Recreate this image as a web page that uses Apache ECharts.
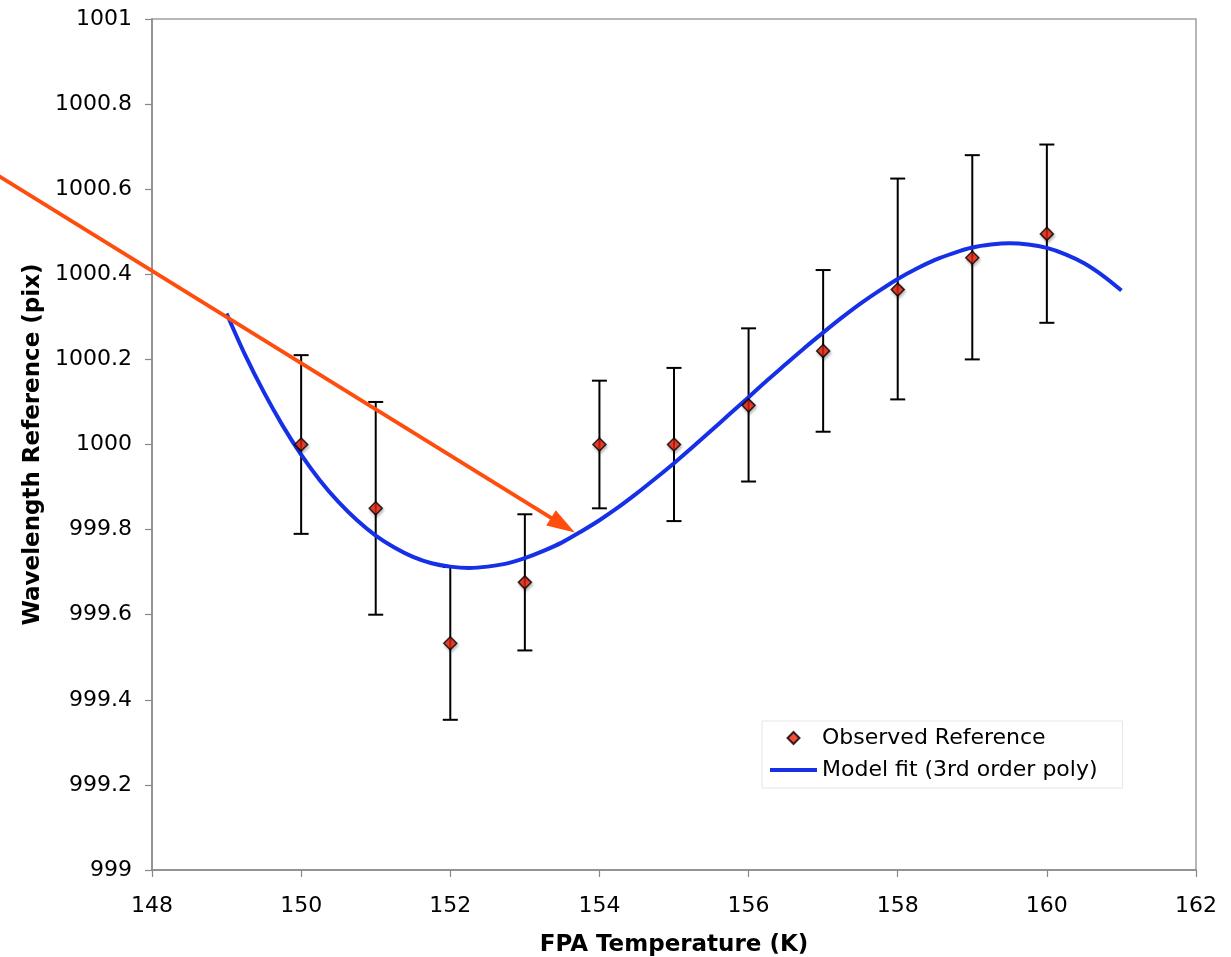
<!DOCTYPE html>
<html><head><meta charset="utf-8">
<script src="https://cdn.jsdelivr.net/npm/echarts@6/dist/echarts.min.js"></script>
<style>html,body{margin:0;padding:0;background:#fff}#c{width:1231px;height:957px}</style>
</head><body><div id="c"></div>
<script>
// Observed reference points (FPA temperature in K, wavelength reference in pix)
const temps    = [150, 151, 152, 153, 154, 155, 156, 157, 158, 159, 160];
const observed = [1000.00, 999.85, 999.533, 999.676, 1000.00, 1000.00, 1000.092, 1000.22, 1000.364, 1000.439, 1000.495];
const errLow   = [999.79, 999.60, 999.353, 999.516, 999.85, 999.82, 999.913, 1000.03, 1000.106, 1000.20, 1000.286];
const errHigh  = [1000.21, 1000.10, 999.712, 999.836, 1000.15, 1000.18, 1000.273, 1000.41, 1000.625, 1000.68, 1000.705];

// Model fit curve (every 0.25 K)
const fitTemps  = [149, 149.25, 149.5, 149.75, 150, 150.25, 150.5, 150.75, 151, 151.25, 151.5, 151.75,
                   152, 152.25, 152.5, 152.75, 153, 153.25, 153.5, 153.75, 154, 154.25, 154.5, 154.75,
                   155, 155.25, 155.5, 155.75, 156, 156.25, 156.5, 156.75, 157, 157.25, 157.5, 157.75,
                   158, 158.25, 158.5, 158.75, 159, 159.25, 159.5, 159.75, 160, 160.25, 160.5, 160.75, 161];
const fitValues = [1000.308, 1000.210, 1000.123, 1000.045, 999.976, 999.916, 999.865, 999.822, 999.786, 999.758, 999.736, 999.721,
                   999.713, 999.710, 999.713, 999.720, 999.733, 999.750, 999.770, 999.795, 999.822, 999.852, 999.885, 999.920,
                   999.956, 999.994, 1000.033, 1000.072, 1000.111, 1000.151, 1000.189, 1000.227, 1000.263, 1000.298, 1000.331, 1000.361,
                   1000.389, 1000.413, 1000.434, 1000.450, 1000.463, 1000.470, 1000.473, 1000.470, 1000.462, 1000.447, 1000.426, 1000.397, 1000.362];

// Annotation arrow (data coordinates)
const arrowFrom = [145.9, 1000.636];
const arrowTo   = [153.67, 999.793];

// Axis ranges
const xRange = {min: 148, max: 162, interval: 2};
const yRange = {min: 999, max: 1001, interval: 0.2};

const FONT = 'DejaVu Sans, Verdana, sans-serif';
const chart = echarts.init(document.getElementById('c'), null, {renderer: 'canvas'});

const obsData = temps.map((t, i) => [t, observed[i]]);
const errData = temps.map((t, i) => [t, errLow[i], errHigh[i]]);
const fitData = fitTemps.map((t, i) => [t, fitValues[i]]);
const numFmt = v => String(parseFloat(Number(v).toFixed(3)));

chart.setOption({
  animation: false,
  backgroundColor: '#fff',
  grid: {left: 152, right: 35, top: 19, bottom: 87, containLabel: false, outerBoundsMode: 'none',
         show: true, borderColor: '#a0a0a0', borderWidth: 1.5, backgroundColor: 'transparent'},
  xAxis: {
    type: 'value', min: xRange.min, max: xRange.max, interval: xRange.interval,
    axisLine: {show: true, onZero: false, lineStyle: {color: '#888', width: 1.5}},
    axisTick: {show: true, length: 7, lineStyle: {color: '#888', width: 1.2}},
    splitLine: {show: false},
    axisLabel: {fontSize: 22, color: '#000', fontFamily: FONT, margin: 25, formatter: numFmt},
    name: 'FPA Temperature (K)', nameLocation: 'middle', nameGap: 64,
    nameTextStyle: {fontSize: 23, fontWeight: 'bold', color: '#000', fontFamily: FONT}
  },
  yAxis: {
    type: 'value', min: yRange.min, max: yRange.max, interval: yRange.interval,
    axisLine: {show: true, onZero: false, lineStyle: {color: '#888', width: 1.5}},
    axisTick: {show: true, length: 7, lineStyle: {color: '#888', width: 1.2}},
    splitLine: {show: false},
    axisLabel: {fontSize: 22, color: '#000', fontFamily: FONT, margin: 20, formatter: numFmt},
    name: 'Wavelength Reference (pix)', nameLocation: 'middle', nameGap: 106, nameRotate: 90,
    nameTextStyle: {fontSize: 23, fontWeight: 'bold', color: '#000', fontFamily: FONT}
  },
  legend: {
    orient: 'vertical', left: 762, top: 721,
    padding: [6, 25, 7, 7], itemGap: 10, itemWidth: 47, itemHeight: 12,
    backgroundColor: '#fff', borderColor: '#e6e6e6', borderWidth: 1,
    textStyle: {fontSize: 22, color: '#000', fontFamily: FONT},
    data: [
      {name: 'Observed Reference', icon: 'path://M0,6M23.5,0L29.5,6L23.5,12L17.5,6ZM47,6'},
      {name: 'Model fit (3rd order poly)', icon: 'path://M0,0H47V4H0Z',
       itemStyle: {color: '#1530e6', borderWidth: 0}}
    ]
  },
  series: [
    {
      name: 'errorbars', type: 'custom', z: 2, silent: true,
      encode: {x: 0, y: [1, 2]},
      data: errData,
      renderItem: function (params, api) {
        const x = api.value(0);
        const lo = api.coord([x, api.value(1)]);
        const hi = api.coord([x, api.value(2)]);
        const hw = 7.5;
        const st = {stroke: '#000', lineWidth: 2};
        return {type: 'group', children: [
          {type: 'line', shape: {x1: lo[0], y1: lo[1], x2: hi[0], y2: hi[1]}, style: st},
          {type: 'line', shape: {x1: lo[0] - hw, y1: lo[1], x2: lo[0] + hw, y2: lo[1]}, style: st},
          {type: 'line', shape: {x1: hi[0] - hw, y1: hi[1], x2: hi[0] + hw, y2: hi[1]}, style: st}
        ]};
      }
    },
    {
      name: 'Model fit (3rd order poly)', type: 'line', z: 3,
      data: fitData, smooth: 0.3, symbol: 'none',
      lineStyle: {color: '#1530e6', width: 4},
      itemStyle: {color: '#1530e6'}
    },
    {
      name: 'Observed Reference', type: 'scatter', z: 4,
      data: obsData, symbol: 'diamond', symbolSize: 13,
      itemStyle: {color: '#f4200a', borderColor: '#000', borderWidth: 1.5,
        shadowBlur: 3, shadowColor: 'rgba(0,0,0,0.3)', shadowOffsetX: 1, shadowOffsetY: 2}
    },
    {
      name: 'arrow', type: 'custom', z: 10, silent: true, clip: false,
      encode: {x: [0, 2], y: [1, 3]},
      data: [[arrowFrom[0], arrowFrom[1], arrowTo[0], arrowTo[1]]],
      renderItem: function (params, api) {
        const a = api.coord([api.value(0), api.value(1)]);
        const b = api.coord([api.value(2), api.value(3)]);
        const dx = b[0] - a[0], dy = b[1] - a[1];
        const L = Math.hypot(dx, dy), ux = dx / L, uy = dy / L;
        const hl = 28, hw = 9, col = '#ff4d0d';
        const base = [b[0] - ux * hl, b[1] - uy * hl];
        return {type: 'group', children: [
          {type: 'line', shape: {x1: a[0], y1: a[1], x2: base[0] + ux * 3, y2: base[1] + uy * 3}, style: {stroke: col, lineWidth: 4}},
          {type: 'polygon', shape: {points: [b, [base[0] - uy * hw, base[1] + ux * hw], [base[0] + uy * hw, base[1] - ux * hw]]}, style: {fill: col}}
        ]};
      }
    }
  ]
});
</script>
</body></html>
